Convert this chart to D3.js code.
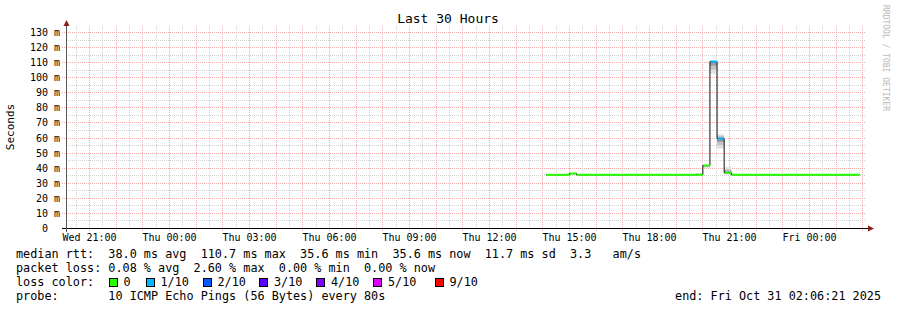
<!DOCTYPE html>
<html>
<head>
<meta charset="utf-8">
<script src="https://cdn.jsdelivr.net/npm/d3@7"></script>
<style>
  html, body { margin: 0; padding: 0; background: #fff; }
  svg { display: block; }
  text { font-family: "DejaVu Sans Mono", monospace; fill: #000; }
</style>
</head>
<body>
<svg id="chart" width="897" height="310"></svg>
<script>
// ---------------- data ----------------
const title = "Last 30 Hours";
const yLabel = "Seconds";
const timeStart = "2025-10-29T20:06:21Z";
const timeEnd   = "2025-10-31T02:06:21Z";

// step segments of the median RTT (ms), loss (pings lost of 10), smoke range (ms)
const segStart = ["2025-10-30T14:07Z","2025-10-30T15:00Z","2025-10-30T15:16Z","2025-10-30T19:44Z",
                  "2025-10-30T20:00Z","2025-10-30T20:16Z","2025-10-30T20:32Z","2025-10-30T20:48Z",
                  "2025-10-30T21:04Z"];
const segEnd   = ["2025-10-30T15:00Z","2025-10-30T15:16Z","2025-10-30T19:44Z","2025-10-30T20:00Z",
                  "2025-10-30T20:16Z","2025-10-30T20:32Z","2025-10-30T20:48Z","2025-10-30T21:04Z",
                  "2025-10-31T01:53Z"];
const medianMs = [35.6, 36.5, 35.6, 35.6, 41.8, 110.7, 59.6, 37.0, 35.6];
const lossCount = [0, 0, 0, 0, 0, 1, 1, 0, 0];
const smokeLo  = [35.5, 35.6, 35.5, 35.5, 40.2, 102.6, 53.0, 35.9, 35.5];
const smokeHi  = [35.7, 36.6, 35.7, 36.8, 42.2, 111.6, 62.5, 40.7, 35.7];

const yTicks = [0,10,20,30,40,50,60,70,80,90,100,110,120,130];

const lossLabels = ["0","1/10","2/10","3/10","4/10","5/10","9/10"];
const lossColors = ["#26ff00","#00b8ff","#0059ff","#5e00ff","#7e00ff","#dd00ff","#ff0000"];

const legendLines = [
  "median rtt:  38.0 ms avg  110.7 ms max  35.6 ms min  35.6 ms now  11.7 ms sd  3.3   am/s",
  "packet loss: 0.08 % avg  2.60 % max  0.00 % min  0.00 % now"
];
const probeText = "probe:       10 ICMP Echo Pings (56 Bytes) every 80s";
const endText = "end: Fri Oct 31 02:06:21 2025";
const watermark = "RRDTOOL / TOBI OETIKER";

// ---------------- drawing ----------------
const svg = d3.select("#chart");
svg.append("rect").attr("width", 897).attr("height", 310).attr("fill", "#fff");

const plotL = 65.66, plotR = 865.66, plotT = 26;
const x = d3.scaleUtc().domain([new Date(timeStart), new Date(timeEnd)]).range([plotL, plotR]);
const y = d3.scaleLinear().domain([0, 130]).range([228.5, 32.5]);
const px = v => Math.floor(v) + 0.5;

const grid = svg.append("g");
// horizontal grid
const minorY = d3.range(5, 134, 5).filter(v => v % 10 !== 0);
grid.selectAll(".hmin").data(minorY).join("line")
  .attr("x1", 66).attr("x2", 866)
  .attr("y1", d => px(y(d))).attr("y2", d => px(y(d)))
  .attr("stroke", "#d2d2d2").attr("stroke-dasharray", "1,1");
grid.selectAll(".hmaj").data(yTicks.filter(d => d > 0)).join("line")
  .attr("x1", 62).attr("x2", 866)
  .attr("y1", d => px(y(d))).attr("y2", d => px(y(d)))
  .attr("stroke", "#f3aaaa").attr("stroke-dasharray", "1,1");

// vertical grid
const halfHours = d3.utcMinute.every(30).range(new Date(timeStart), new Date(timeEnd));
const minorX = halfHours.filter(d => d.getUTCMinutes() === 30);
const hours = d3.utcHour.range(new Date(timeStart), new Date(timeEnd));
grid.selectAll(".vmin").data(minorX).join("line")
  .attr("x1", d => px(x(d))).attr("x2", d => px(x(d)))
  .attr("y1", plotT).attr("y2", 228)
  .attr("stroke", "#d2d2d2").attr("stroke-dasharray", "1,1");
grid.selectAll(".vmaj").data(hours).join("line")
  .attr("x1", d => px(x(d))).attr("x2", d => px(x(d)))
  .attr("y1", plotT).attr("y2", 232)
  .attr("stroke", "#f3aaaa").attr("stroke-dasharray", "1,1");

// smoke
const segs = segStart.map((s, i) => ({
  t0: new Date(s), t1: new Date(segEnd[i]), med: medianMs[i], loss: lossCount[i],
  lo: smokeLo[i], hi: smokeHi[i]
}));
const smoke = svg.append("g");
const shades = [{f: 1, c: "#e2e2e2"}, {f: 0.66, c: "#c4c4c4"}, {f: 0.33, c: "#9a9a9a"}];
shades.forEach(sh => {
  smoke.selectAll(null).data(segs).join("rect")
    .attr("x", d => x(d.t0)).attr("width", d => x(d.t1) - x(d.t0))
    .attr("y", d => y(d.med + (d.hi - d.med) * sh.f))
    .attr("height", d => y(d.med - (d.med - d.lo) * sh.f) - y(d.med + (d.hi - d.med) * sh.f))
    .attr("fill", sh.c);
});

// median black step line
const stepPts = [];
segs.forEach(d => { stepPts.push([d.t0, d.med]); stepPts.push([d.t1, d.med]); });
svg.append("path")
  .attr("d", d3.line().x(d => x(d[0])).y(d => y(d[1]))(stepPts))
  .attr("fill", "none").attr("stroke", "#111").attr("stroke-width", 1);

// coloured median segments by loss
const lossIndex = n => n === 0 ? 0 : n <= 5 ? n : 6;
svg.append("g").selectAll("line").data(segs).join("line")
  .attr("x1", d => x(d.t0) + 0.5).attr("x2", d => x(d.t1))
  .attr("y1", d => y(d.med)).attr("y2", d => y(d.med))
  .attr("stroke", d => lossColors[lossIndex(d.loss)]).attr("stroke-width", 2);

// axes lines
svg.append("line").attr("x1", 62).attr("x2", 868).attr("y1", 228.5).attr("y2", 228.5)
  .attr("stroke", "#000");
svg.append("line").attr("x1", 66.5).attr("x2", 66.5).attr("y1", 24).attr("y2", 232)
  .attr("stroke", "#555");
// arrows
svg.append("path").attr("d", "M63.5,26 L69.5,26 L66.5,20 Z").attr("fill", "#8c2020");
svg.append("path").attr("d", "M868,225.5 L868,231.5 L874,228.5 Z").attr("fill", "#8c2020");

// y tick labels
svg.append("g").selectAll("text").data(yTicks).join("text")
  .attr("x", d => d === 0 ? 60 - 2 * 6.02 : 60)
  .attr("y", d => y(d) + 3.5)
  .attr("text-anchor", "end").attr("font-size", 10)
  .text(d => d === 0 ? "0" : d + " m");

// x tick labels
const labelTimes = d3.utcHour.every(3).range(new Date(timeStart), new Date(timeEnd));
svg.append("g").selectAll("text").data(labelTimes).join("text")
  .attr("x", d => x(d)).attr("y", 241)
  .attr("text-anchor", "middle").attr("font-size", 10)
  .text(d => d3.utcFormat("%a %H:%M")(d));

// title
svg.append("text").attr("x", 448).attr("y", 23).attr("text-anchor", "middle")
  .attr("font-size", 13).text(title);

// y axis label
svg.append("text").attr("transform", "translate(14,127) rotate(-90)")
  .attr("text-anchor", "middle").attr("font-size", 11).text(yLabel);

// watermark
svg.append("text").attr("transform", "translate(883,5) rotate(90)")
  .attr("font-size", 8).style("fill", "#b8b8b8")
  .text(watermark);

// legend
const lf = 11.8;
svg.append("g").selectAll("text").data(legendLines).join("text")
  .attr("x", 16).attr("y", (d, i) => 258 + i * 14)
  .attr("font-size", lf).style("white-space", "pre").text(d => d);

svg.append("text").attr("x", 16).attr("y", 286).attr("font-size", lf)
  .style("white-space", "pre").text("loss color:");
const boxX = [109, 146, 203, 259.5, 316.5, 373.5, 435];
const lc = svg.append("g");
lc.selectAll("rect").data(lossLabels).join("rect")
  .attr("x", (d, i) => Math.floor(boxX[i]) + 0.5).attr("y", 278.5).attr("width", 8).attr("height", 8)
  .attr("fill", (d, i) => lossColors[i]).attr("stroke", "#000");
lc.selectAll("text").data(lossLabels).join("text")
  .attr("x", (d, i) => boxX[i] + 14.5).attr("y", 286).attr("font-size", lf).text(d => d);

svg.append("text").attr("x", 16).attr("y", 300).attr("font-size", lf)
  .style("white-space", "pre").text(probeText);
svg.append("text").attr("x", 881).attr("y", 300).attr("text-anchor", "end")
  .attr("font-size", lf).text(endText);
</script>
</body>
</html>
